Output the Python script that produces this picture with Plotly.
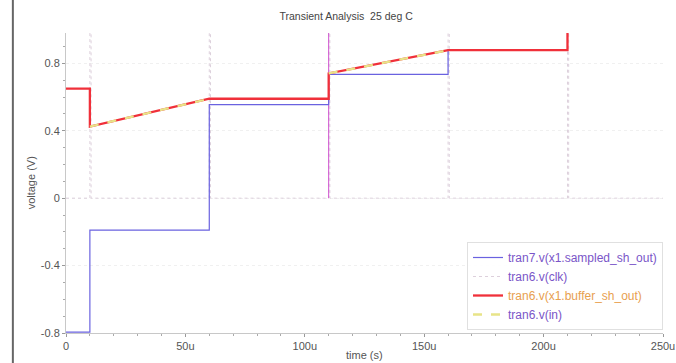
import plotly.graph_objects as go

# ---- data (time in microseconds, voltage in volts) ----
sampled_t = [0, 10, 10, 60, 60, 110, 110, 160, 160, 210]
sampled_v = [-0.795, -0.795, -0.19, -0.19, 0.555, 0.555, 0.735, 0.735, 0.878, 0.878]

clk_t = [0, 10, 10, 10.5, 10.5, 60, 60, 60.5, 60.5, 110, 110, 110.5, 110.5,
         160, 160, 160.5, 160.5, 210, 210, 210.5, 210.5, 250]
clk_v = [0, 0, 1.8, 1.8, 0, 0, 1.8, 1.8, 0, 0, 1.8, 1.8, 0,
         0, 1.8, 1.8, 0, 0, 1.8, 1.8, 0, 0]

# highlighted (cursor-selected) clock edge
cursor_t = [110, 110]
cursor_v = [0, 1.8]

buffer_t = [0, 10, 10, 60, 110, 110, 160, 210, 210]
buffer_v = [0.65, 0.65, 0.425, 0.59, 0.59, 0.74, 0.878, 0.878, 1.3]

in_t = [10, 60, None, 110, 160]
in_v = [0.425, 0.59, None, 0.74, 0.878]

x_ticks = [0, 50, 100, 150, 200, 250]
x_ticktext = ["0", "50u", "100u", "150u", "200u", "250u"]
y_ticks = [-0.8, -0.4, 0, 0.4, 0.8]
y_ticktext = ["-0.8", "-0.4", "0", "0.4", "0.8"]

PURPLE = "#7a55c8"
ORANGE = "#e8a050"

fig = go.Figure()
fig.add_trace(go.Scatter(
    x=clk_t, y=clk_v, mode="lines",
    line=dict(color="#ddd0dc", width=1, dash="dot"),
    name=f"<span style='color:{PURPLE}'>tran6.v(clk)</span>", legendrank=2))
fig.add_trace(go.Scatter(
    x=cursor_t, y=cursor_v, mode="lines",
    line=dict(color="#d050d0", width=1), showlegend=False, hoverinfo="skip"))
fig.add_trace(go.Scatter(
    x=sampled_t, y=sampled_v, mode="lines",
    line=dict(color="#6a62e0", width=1.2),
    name=f"<span style='color:{PURPLE}'>tran7.v(x1.sampled_sh_out)</span>", legendrank=1))
fig.add_trace(go.Scatter(
    x=buffer_t, y=buffer_v, mode="lines",
    line=dict(color="#f0303a", width=2.3),
    name=f"<span style='color:{ORANGE}'>tran6.v(x1.buffer_sh_out)</span>", legendrank=3))
fig.add_trace(go.Scatter(
    x=in_t, y=in_v, mode="lines",
    line=dict(color="#e8e488", width=2.3, dash="dash"),
    name=f"<span style='color:{PURPLE}'>tran6.v(in)</span>", legendrank=4))

# window border at far left
fig.add_shape(type="line", x0=-0.089, x1=-0.089, y0=-0.12, y1=1.11,
              xref="paper", yref="paper", line=dict(color="#666", width=2))

fig.add_annotation(text="voltage (V)", x=-0.058, y=0.5, xref="paper", yref="paper",
                   textangle=-90, showarrow=False, xanchor="center", yanchor="middle",
                   font=dict(size=11, color="#555"))
fig.add_annotation(text="time (s)", x=0.5, y=-0.072, xref="paper", yref="paper",
                   showarrow=False, xanchor="center", yanchor="middle",
                   font=dict(size=11, color="#555"))

axis_common = dict(
    showline=True, linecolor="#c8c8c8", linewidth=1,
    ticks="outside", ticklen=3, tickcolor="#999",
    gridcolor="#f0f0f0", griddash="dot", zeroline=False,
    tickfont=dict(size=11, color="#555"), automargin=False,
)
fig.update_layout(
    width=676, height=363,
    margin=dict(l=66, r=13, t=33, b=30),
    paper_bgcolor="white", plot_bgcolor="white",
    font=dict(family="Liberation Sans, Arial, sans-serif", size=11, color="#555"),
    title=dict(text="Transient Analysis  25 deg C", x=0.512, xref="container",
               y=0.955, yanchor="middle", font=dict(size=10.5, color="#444"),
               automargin=False),
    xaxis=dict(range=[0, 250], tickvals=x_ticks, ticktext=x_ticktext,
               showgrid=False,
               minor=dict(ticks="outside", ticklen=2, dtick=10, tickcolor="#aaa"),
               **axis_common),
    yaxis=dict(range=[-0.8, 0.98], tickvals=y_ticks, ticktext=y_ticktext,
               showgrid=True,
               minor=dict(ticks="outside", ticklen=2, dtick=0.1, tickcolor="#aaa"),
               **axis_common),
    legend=dict(x=1.0, xanchor="right", y=0.01, yanchor="bottom",
                bgcolor="rgba(255,255,255,0.9)", bordercolor="#e0e0e0", borderwidth=1,
                font=dict(size=12), itemwidth=30, tracegroupgap=0,
                traceorder="normal"),
    showlegend=True,
)

fig.write_html("out.html")
